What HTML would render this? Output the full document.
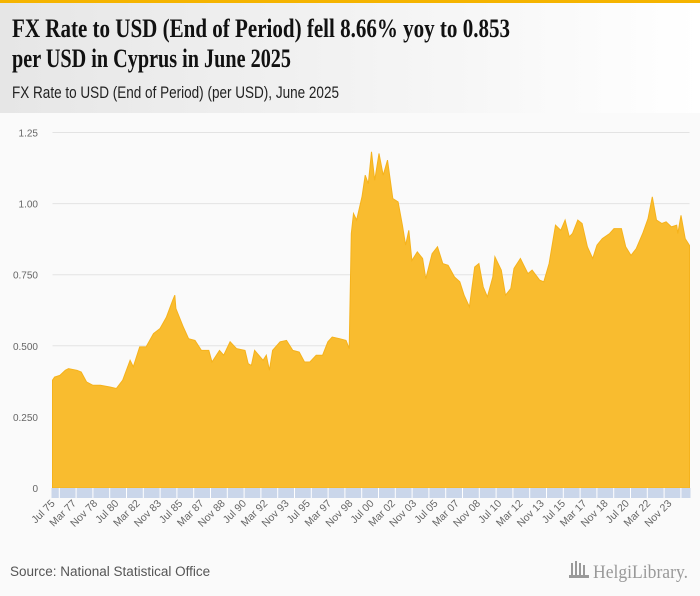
<!DOCTYPE html>
<html><head><meta charset="utf-8"><style>
html,body{margin:0;padding:0;background:#fafafa;}
svg{display:block;font-family:"Liberation Sans",sans-serif;}
</style></head><body>
<svg id="chart" width="700" height="596" viewBox="0 0 700 596">
<defs><linearGradient id="hg" x1="0" x2="1" y1="0" y2="0"><stop offset="0" stop-color="#e6e6e6"/><stop offset="1" stop-color="#ffffff"/></linearGradient></defs>
<rect x="0" y="0" width="700" height="596" fill="#fafafa"/>
<rect x="0" y="0" width="700" height="113" fill="url(#hg)"/>
<rect x="0" y="0" width="700" height="3" fill="#f5b400"/>
<text x="12" y="37" font-family="Liberation Serif, serif" font-weight="bold" font-size="26" fill="#111" textLength="498" lengthAdjust="spacingAndGlyphs">FX Rate to USD (End of Period) fell 8.66% yoy to 0.853</text>
<text x="12" y="67" font-family="Liberation Serif, serif" font-weight="bold" font-size="26" fill="#111" textLength="279" lengthAdjust="spacingAndGlyphs">per USD in Cyprus in June 2025</text>
<text x="12" y="98" font-size="17" fill="#222" textLength="327" lengthAdjust="spacingAndGlyphs">FX Rate to USD (End of Period) (per USD), June 2025</text>
<g id="grid"></g>
<g id="yticks"></g>
<path id="area" fill="#f9bc2f" stroke="#f5b21c" stroke-width="1"/>
<g id="xband"></g>
<text x="10" y="576" font-size="13.5" fill="#555">Source: National Statistical Office</text>
<g>
<g fill="#999"><rect x="571" y="563" width="2" height="12"/><rect x="575" y="561" width="2" height="14"/><rect x="579" y="563" width="2" height="12"/><rect x="583" y="565" width="2" height="10"/><rect x="569" y="575" width="20" height="3"/></g>
<text x="593" y="578" font-family="Liberation Serif, serif" font-size="19" fill="#999" textLength="95" lengthAdjust="spacingAndGlyphs">HelgiLibrary.</text>
</g>
</svg>
<script>
const months = [0,2,7,12,15,23,27,32,38,45,54,60,66,73,76,82,88,95,101,107,113,115,116,123,128,134,140,147,150,157,161,167,173,181,184,187,190,198,201,204,207,214,220,226,232,237,242,248,254,259,263,270,276,279,281,283,286,291,294,297,300,303,307,311,315,320,325,329,332,335,338,343,348,351,357,362,367,372,378,383,387,392,397,401,405,409,414,416,422,426,431,434,440,447,451,458,462,467,473,478,482,486,489,494,498,503,508,512,517,524,528,535,539,544,549,555,560,564,568,573,577,582,587,588,591,595,599];
const values = [0.379,0.39,0.396,0.414,0.42,0.414,0.408,0.373,0.361,0.361,0.355,0.35,0.379,0.449,0.426,0.496,0.496,0.543,0.56,0.60,0.66,0.678,0.631,0.566,0.525,0.519,0.484,0.484,0.443,0.484,0.467,0.514,0.49,0.484,0.437,0.431,0.484,0.449,0.467,0.414,0.484,0.514,0.519,0.484,0.478,0.443,0.443,0.467,0.467,0.514,0.531,0.525,0.519,0.49,0.895,0.965,0.942,1.024,1.10,1.07,1.182,1.082,1.176,1.10,1.153,1.018,1.006,0.924,0.854,0.906,0.80,0.83,0.807,0.736,0.824,0.848,0.789,0.783,0.742,0.725,0.678,0.637,0.777,0.789,0.707,0.672,0.742,0.813,0.766,0.678,0.701,0.772,0.807,0.754,0.766,0.731,0.725,0.789,0.924,0.906,0.942,0.883,0.895,0.942,0.93,0.848,0.807,0.854,0.877,0.895,0.912,0.912,0.848,0.818,0.842,0.895,0.947,1.024,0.942,0.93,0.936,0.918,0.924,0.895,0.959,0.877,0.853];
const yTicks = [0,0.25,0.5,0.75,1.0,1.25];
const yTickLabels = ["0","0.250","0.500","0.750","1.00","1.25"];
const xLabels = ["Jul 75","Mar 77","Nov 78","Jul 80","Mar 82","Nov 83","Jul 85","Mar 87","Nov 88","Jul 90","Mar 92","Nov 93","Jul 95","Mar 97","Nov 98","Jul 00","Mar 02","Nov 03","Jul 05","Mar 07","Nov 08","Jul 10","Mar 12","Nov 13","Jul 15","Mar 17","Nov 18","Jul 20","Mar 22","Nov 23"];
const NS='http://www.w3.org/2000/svg';
const X0=52.5,X1=689.5,Y0=488,Y1=132.5,MMAX=599,VMAX=1.25;
const xs=m=>X0+(X1-X0)*m/MMAX;
const ys=v=>Y0-(Y0-Y1)*v/VMAX;
const grid=document.getElementById('grid'),yt=document.getElementById('yticks'),xb=document.getElementById('xband');
yTicks.forEach((t,i)=>{
  const l=document.createElementNS(NS,'line');
  l.setAttribute('x1',X0);l.setAttribute('x2',X1);l.setAttribute('y1',ys(t));l.setAttribute('y2',ys(t));
  l.setAttribute('stroke','#e3e3e3');l.setAttribute('stroke-width','1');
  
  
  grid.appendChild(l);
  const tx=document.createElementNS(NS,'text');
  tx.setAttribute('x',38);tx.setAttribute('y',ys(t)+4);tx.setAttribute('text-anchor','end');
  tx.setAttribute('font-size','10');tx.setAttribute('fill','#666');
  tx.textContent=yTickLabels[i];
  
  
  yt.appendChild(tx);
});
let d='M'+xs(months[0])+','+Y0;
months.forEach((m,i)=>{d+=' L'+xs(m).toFixed(1)+','+ys(values[i]).toFixed(1);});
d+=' L'+xs(months[months.length-1])+','+Y0+' Z';
document.getElementById('area').setAttribute('d',d);
const band=document.createElementNS(NS,'rect');
band.setAttribute('x',X0-1);band.setAttribute('y',Y0);band.setAttribute('width',X1-X0+2);band.setAttribute('height',10);
band.setAttribute('fill','#cad6ea');


xb.appendChild(band);
for(let x=59.3;x<X1;x+=16.8){
  const s=document.createElementNS(NS,'line');
  s.setAttribute('x1',x);s.setAttribute('x2',x);s.setAttribute('y1',Y0);s.setAttribute('y2',Y0+10);
  s.setAttribute('stroke','#fff');s.setAttribute('stroke-width','1');
  
  
  xb.appendChild(s);
}
xLabels.forEach((lab,i)=>{
  const m=i*20;
  const x=xs(m)+3,y=Y0+16;
  const t=document.createElementNS(NS,'text');
  t.setAttribute('x',x);t.setAttribute('y',y);t.setAttribute('text-anchor','end');
  t.setAttribute('font-size','10.5');t.setAttribute('fill','#666');
  t.setAttribute('transform','rotate(-45 '+x+' '+y+')');
  t.textContent=lab;
  
  
  xb.appendChild(t);
});
</script>
</body></html>
